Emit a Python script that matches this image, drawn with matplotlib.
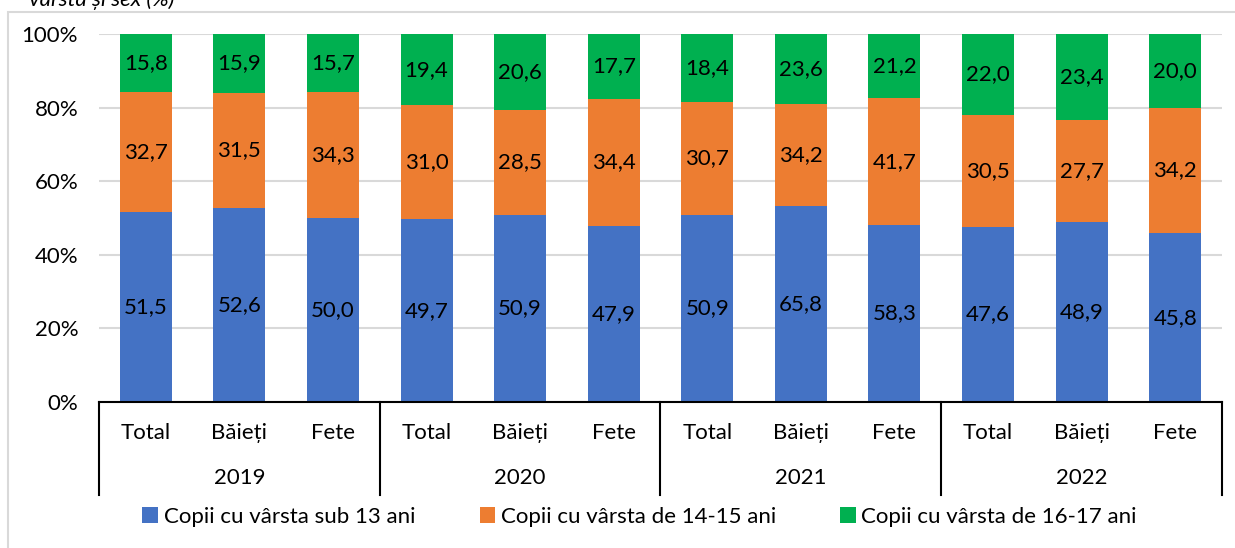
import matplotlib.pyplot as plt
from matplotlib.patches import Rectangle
import numpy as np

plt.rcParams['font.family'] = ['Lato', 'DejaVu Sans']

# categories and values
years = ["2019", "2020", "2021", "2022"]
groups = ["Total", "Băieți", "Fete"]
under13 = [51.5, 52.6, 50.0, 49.7, 50.9, 47.9, 50.9, 65.8, 58.3, 47.6, 48.9, 45.8]
age1415 = [32.7, 31.5, 34.3, 31.0, 28.5, 34.4, 30.7, 34.2, 41.7, 30.5, 27.7, 34.2]
age1617 = [15.8, 15.9, 15.7, 19.4, 20.6, 17.7, 18.4, 23.6, 21.2, 22.0, 23.4, 20.0]
series_names = ["Copii cu vârsta sub 13 ani", "Copii cu vârsta de 14-15 ani", "Copii cu vârsta de 16-17 ani"]
colors = ["#4472C4", "#ED7D31", "#00B050"]

FS = 16
W, H = 1235, 548
fig = plt.figure(figsize=(W / 100, H / 100), dpi=100)
ax = fig.add_axes([99 / W, 1 - 402 / H, (1222 - 99) / W, (402 - 34) / H])

# outer chart frame (light grey, cut by the image edges)
fig.patches.append(Rectangle((8 / W, -0.2), 1.2, 1 - 12 / H + 0.2, transform=fig.transFigure,
                             fill=False, edgecolor="#D9D9D9", linewidth=1.5))
# title cut off at the top
fig.text(174 / W, 1 - 6 / H, "vârsta și sex (%)", ha="right", va="baseline",
         fontsize=FS, style="italic")

data = np.array([under13, age1415, age1617])
totals = data.sum(axis=0)
pct = data / totals * 100
x = np.arange(len(under13))

bottom = np.zeros(len(x))
for i in range(3):
    ax.bar(x, pct[i], 0.555, bottom=bottom, color=colors[i], label=series_names[i], zorder=2)
    for j in range(len(x)):
        ax.text(x[j], bottom[j] + pct[i][j] / 2, ("%.1f" % data[i][j]).replace(".", ","),
                ha="center", va="center", fontsize=FS, zorder=3)
    bottom += pct[i]

ax.set_xlim(-0.5, len(x) - 0.5)
ax.set_ylim(0, 100)
ax.set_yticks(np.arange(0, 101, 20))
ax.set_yticklabels(["%d%%" % v for v in range(0, 101, 20)], fontsize=FS)
ax.tick_params(axis="y", length=0, pad=15)
ax.set_xticks([])
ax.yaxis.grid(True, color="#D9D9D9", linewidth=1.5, zorder=0)
for s in ["left", "right", "top"]:
    ax.spines[s].set_visible(False)
ax.spines["bottom"].set_linewidth(1.5)

# two-level category axis
tr = ax.get_xaxis_transform()
for j in range(len(x)):
    ax.text(x[j], -0.084, groups[j % 3], transform=tr, ha="center", va="center", fontsize=FS)
for k in range(len(years)):
    ax.text(3 * k + 1, -0.207, years[k], transform=tr, ha="center", va="center", fontsize=FS)
for k in range(len(years) + 1):
    ax.plot([3 * k - 0.5, 3 * k - 0.5], [0, -0.253], transform=tr, color="black",
            linewidth=1.5, clip_on=False)

fig.legend(loc="center", bbox_to_anchor=(0.518, 1 - 517 / H), ncol=3, frameon=False,
           fontsize=FS, handlelength=0.7, handleheight=0.7, handletextpad=0.25,
           columnspacing=2.9)

fig.savefig("out.png", dpi=100)
